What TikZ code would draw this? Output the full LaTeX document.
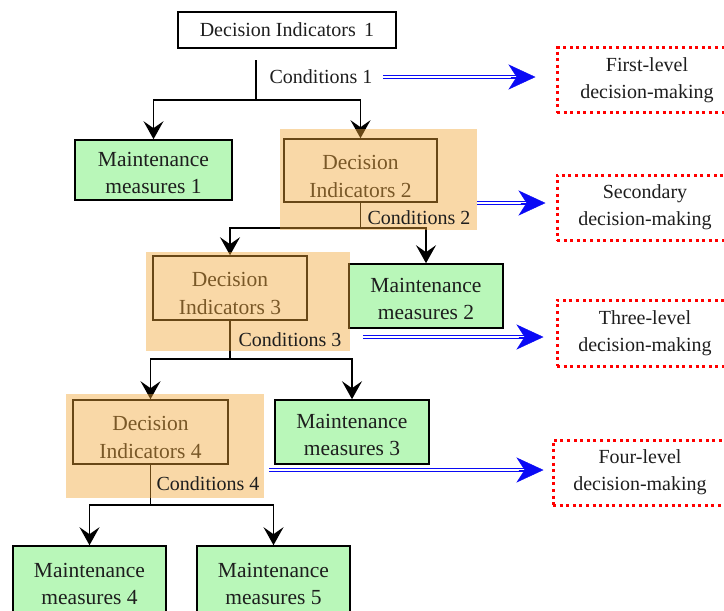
\documentclass[tikz,border=0pt]{standalone}
\usepackage{fontspec}
\setmainfont{Liberation Serif}
\usetikzlibrary{arrows.meta}
\definecolor{boxgreen}{RGB}{185,247,185}
\definecolor{shade}{RGB}{242,165,52}
\definecolor{ink}{RGB}{30,30,30}
\definecolor{dblue}{RGB}{10,10,245}
\begin{document}
\begin{tikzpicture}[x=1pt,y=-1pt,
  box/.style={draw=black, line width=1.6pt, align=center, inner sep=0pt, text=ink,
    font=\fontsize{20}{28}\selectfont},
  mbox/.style={box, fill=boxgreen, font=\fontsize{21.5}{27}\selectfont,
    text height=53pt, text depth=6pt},
  dbox/.style={box, font=\fontsize{21.5}{28}\selectfont, text=ink,
    text height=58pt, text depth=5pt},
  cond/.style={inner sep=1pt, text=ink, font=\fontsize{20}{24}\selectfont},
  level/.style={draw=red, line width=3pt, dash pattern=on 3pt off 3.6pt, align=center,
    inner sep=0pt, text=ink, font=\fontsize{20}{27}\selectfont},
  tree/.style={draw=black, line width=1.6pt},
  down/.style={tree, -{Stealth[length=18pt, width=20pt, inset=7pt]}},
  dline/.style={draw=dblue, double=white, double distance=2pt, line width=1.3pt},
  dtip/.style={draw=dblue, fill=dblue, line width=0.4pt,
    -{Stealth[length=27pt, width=25pt, inset=8pt]}},
  shadebox/.style={fill=shade, opacity=0.43}
]
% page
\fill[white] (0,0) rectangle (724,611);
\useasboundingbox (0,0) rectangle (724,611);

% decision and maintenance boxes
\node[box, minimum width=218pt, minimum height=36pt] (di1) at (287,30) {Decision Indicators\, 1};
\node[mbox, minimum width=157pt, minimum height=60pt] (mm1) at (153.5,170) {Maintenance\\measures 1};
\node[dbox, minimum width=153pt, minimum height=59pt] (di2) at (360.5,170.5) {Decision\\Indicators 2};
\node[dbox, minimum width=154pt, minimum height=64pt] (di3) at (230,288) {Decision\\Indicators 3};
\node[mbox, minimum width=154pt, minimum height=64pt] (mm2) at (426,296) {Maintenance\\measures 2};
\node[dbox, minimum width=155pt, minimum height=64pt] (di4) at (150.5,432) {Decision\\Indicators 4};
\node[mbox, minimum width=154pt, minimum height=64pt] (mm3) at (352,432) {Maintenance\\measures 3};
\node[mbox, minimum width=153pt, minimum height=70pt] (mm4) at (89.5,581) {Maintenance\\measures 4};
\node[mbox, minimum width=153pt, minimum height=70pt] (mm5) at (273.5,581) {Maintenance\\measures 5};

% branching connectors
\coordinate (s1) at (256,60);
\coordinate (j1) at (256,100);
\coordinate (j2) at (360.5,228);
\coordinate (j3) at (230,359);
\coordinate (j4) at (150.5,505);
\draw[tree] (s1) -- (j1);
\draw[down] (j1) -| (mm1.north);
\draw[down] (j1) -| (di2.north);
\draw[tree] (di2.south) -- (j2);
\draw[down] (j2) -| (di3.north);
\draw[down] (j2) -| (mm2.north);
\draw[tree] (di3.south) -- (j3);
\draw[down] (j3) -| (di4.north);
\draw[down] (j3) -| (mm3.north);
\draw[tree] (di4.south) -- (j4);
\draw[down] (j4) -| (mm4.north);
\draw[down] (j4) -| (mm5.north);

% shaded groups
\fill[shadebox] (280,129) rectangle (477,230);
\fill[shadebox] (146,252) rectangle (350,351);
\fill[shadebox] (66,394) rectangle (264,498);

% condition labels
\node[cond] (c1) at (321,77) {Conditions 1};
\node[cond] (c2) at (419,218) {Conditions 2};
\node[cond] (c3) at (290,340) {Conditions 3};
\node[cond] (c4) at (208,484) {Conditions 4};

% decision levels
\node[level, minimum width=180pt, minimum height=65pt] (r1) at (647,80) {First-level\\decision-making};
\node[level, minimum width=176pt, minimum height=65pt] (r2) at (645,207.5) {Secondary\\decision-making};
\node[level, minimum width=176pt, minimum height=66pt] (r3) at (645,333) {Three-level\\decision-making};
\node[level, minimum width=174pt, minimum height=65pt] (r4) at (640,472.5) {Four-level\\decision-making};

% level arrows
\coordinate (a1) at (383,77);
\coordinate (a2) at (477,203);
\coordinate (a3) at (363,337);
\coordinate (a4) at (269,470);
\coordinate (b1) at (a1 -| r1.west);
\coordinate (b2) at (a2 -| r2.west);
\coordinate (b3) at (a3 -| r3.west);
\coordinate (b4) at (a4 -| r4.west);
\draw[dline, shorten >=38pt] (a1) -- (b1);
\draw[dtip, shorten >=20pt] ([xshift=-45pt]b1) -- (b1);
\draw[dline, shorten >=28pt] (a2) -- (b2);
\draw[dtip, shorten >=10pt] ([xshift=-35pt]b2) -- (b2);
\draw[dline, shorten >=30pt] (a3) -- (b3);
\draw[dtip, shorten >=12pt] ([xshift=-37pt]b3) -- (b3);
\draw[dline, shorten >=26pt] (a4) -- (b4);
\draw[dtip, shorten >=8pt] ([xshift=-33pt]b4) -- (b4);
\end{tikzpicture}
\end{document}
